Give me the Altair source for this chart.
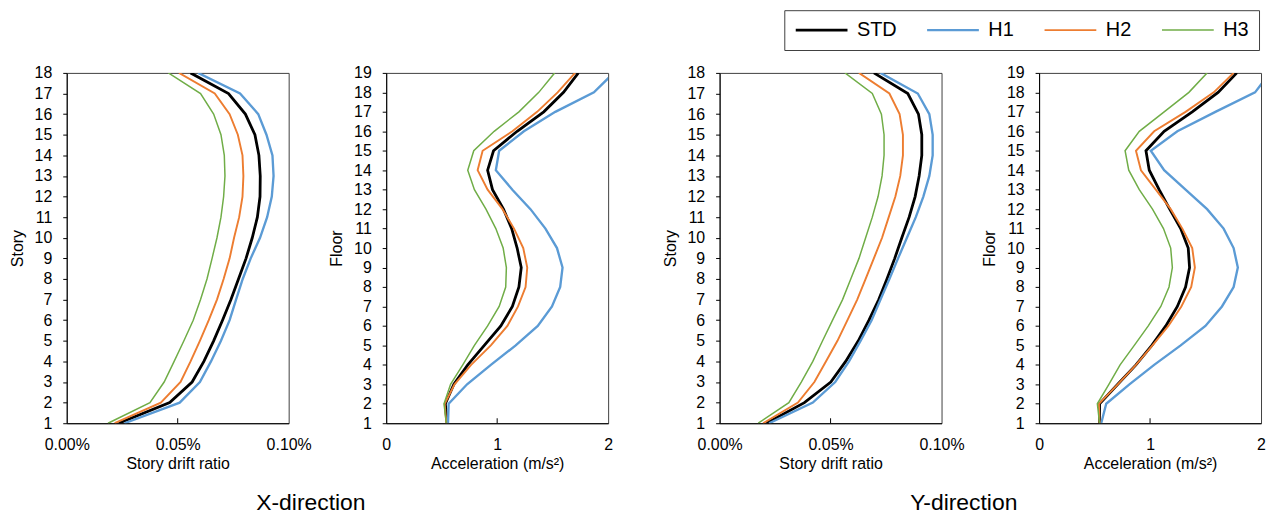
import altair as alt
import pandas as pd

series_names = ["STD", "H1", "H2", "H3"]
series_colors = ["#000000", "#5B9BD5", "#ED7D31", "#70AD47"]
series_widths = [2.8, 1.5, 1.5, 1.5]

stories = list(range(1, 19))
floors = list(range(1, 20))

# Story drift ratio (%) - X direction, story 1..18
x_drift_std = [0.0234, 0.0464, 0.0565, 0.0618, 0.0662, 0.0702, 0.0740, 0.0774, 0.0808, 0.0836, 0.0859, 0.0871, 0.0872, 0.0866, 0.0848, 0.0805, 0.0729, 0.0558]
x_drift_h1 = [0.0260, 0.0509, 0.0600, 0.0650, 0.0695, 0.0734, 0.0763, 0.0793, 0.0829, 0.0871, 0.0903, 0.0924, 0.0932, 0.0927, 0.0900, 0.0863, 0.0781, 0.0592]
x_drift_h2 = [0.0216, 0.0424, 0.0513, 0.0558, 0.0600, 0.0640, 0.0677, 0.0707, 0.0734, 0.0754, 0.0777, 0.0792, 0.0796, 0.0792, 0.0771, 0.0734, 0.0667, 0.0506]
x_drift_h3 = [0.0186, 0.0375, 0.0439, 0.0484, 0.0528, 0.0570, 0.0603, 0.0632, 0.0655, 0.0677, 0.0695, 0.0707, 0.0713, 0.0710, 0.0695, 0.0662, 0.0603, 0.0458]

# Acceleration (m/s2) - X direction, floor 1..19
x_acc_std = [0.548, 0.533, 0.610, 0.735, 0.884, 1.033, 1.137, 1.196, 1.217, 1.180, 1.131, 1.057, 0.958, 0.914, 0.967, 1.180, 1.420, 1.598, 1.732]
x_acc_h1 = [0.557, 0.563, 0.729, 0.943, 1.167, 1.366, 1.494, 1.568, 1.589, 1.539, 1.435, 1.300, 1.137, 0.988, 1.018, 1.241, 1.524, 1.872, 2.050]
x_acc_h2 = [0.542, 0.527, 0.616, 0.765, 0.943, 1.092, 1.188, 1.256, 1.271, 1.235, 1.152, 1.048, 0.914, 0.824, 0.869, 1.137, 1.360, 1.545, 1.702]
x_acc_h3 = [0.542, 0.521, 0.580, 0.690, 0.795, 0.914, 1.018, 1.077, 1.083, 1.054, 0.988, 0.899, 0.795, 0.735, 0.789, 0.973, 1.196, 1.375, 1.518]

# Story drift ratio (%) - Y direction, story 1..18
y_drift_std = [0.0211, 0.0382, 0.0501, 0.0568, 0.0625, 0.0673, 0.0717, 0.0754, 0.0789, 0.0821, 0.0854, 0.0881, 0.0899, 0.0911, 0.0911, 0.0896, 0.0848, 0.0695]
y_drift_h1 = [0.0223, 0.0420, 0.0521, 0.0583, 0.0635, 0.0685, 0.0725, 0.0765, 0.0804, 0.0844, 0.0884, 0.0918, 0.0945, 0.0960, 0.0960, 0.0945, 0.0893, 0.0725]
y_drift_h2 = [0.0196, 0.0353, 0.0427, 0.0479, 0.0531, 0.0576, 0.0620, 0.0658, 0.0695, 0.0732, 0.0762, 0.0792, 0.0814, 0.0826, 0.0826, 0.0811, 0.0765, 0.0628]
y_drift_h3 = [0.0174, 0.0312, 0.0368, 0.0420, 0.0464, 0.0509, 0.0554, 0.0591, 0.0628, 0.0658, 0.0688, 0.0714, 0.0732, 0.0741, 0.0741, 0.0729, 0.0688, 0.0565]

# Acceleration (m/s2) - Y direction, floor 1..19
y_acc_std = [0.545, 0.545, 0.709, 0.873, 1.016, 1.142, 1.246, 1.320, 1.356, 1.344, 1.276, 1.177, 1.082, 0.993, 0.963, 1.127, 1.380, 1.613, 1.782]
y_acc_h1 = [0.560, 0.605, 0.814, 1.037, 1.276, 1.499, 1.648, 1.753, 1.791, 1.753, 1.663, 1.514, 1.320, 1.127, 1.007, 1.246, 1.589, 1.946, 2.080]
y_acc_h2 = [0.545, 0.539, 0.709, 0.873, 1.022, 1.165, 1.282, 1.371, 1.404, 1.380, 1.291, 1.186, 1.052, 0.918, 0.873, 1.037, 1.320, 1.574, 1.753]
y_acc_h3 = [0.545, 0.525, 0.629, 0.730, 0.858, 0.984, 1.097, 1.171, 1.201, 1.186, 1.121, 1.022, 0.903, 0.808, 0.775, 0.903, 1.127, 1.350, 1.514]

drift_ticks = [0.0, 0.05, 0.10]
acc_ticks = [0, 1, 2]

FONT = "Liberation Sans"
W = 223
H = 352


def make_df(levels, arrays):
    rows = []
    for name, arr in zip(series_names, arrays):
        for lv, v in zip(levels, arr):
            rows.append({"series": name, "level": lv, "value": v})
    return pd.DataFrame(rows)


def panel(df, xdomain, xticks, label_expr, xtitle, ytitle, levels):
    xscale = alt.Scale(domain=xdomain, nice=False, zero=False)
    lines = alt.Chart(df).mark_line(clip=True).encode(
        x=alt.X("value:Q", scale=xscale,
                axis=alt.Axis(values=xticks, labelExpr=label_expr, title=xtitle,
                              ticks=False, labelFlush=False, labelPadding=13,
                              titlePadding=3)),
        y=alt.Y("level:Q",
                scale=alt.Scale(domain=[levels[0], levels[-1]], nice=False, zero=False),
                axis=alt.Axis(values=levels, title=ytitle, tickSize=4,
                              labelPadding=11, titlePadding=9, format="d")),
        color=alt.Color("series:N",
                        scale=alt.Scale(domain=series_names, range=series_colors),
                        legend=alt.Legend(title=None, orient="none", legendX=721, legendY=-63,
                                          direction="horizontal", columns=4)),
        strokeWidth=alt.StrokeWidth("series:N",
                                    scale=alt.Scale(domain=series_names, range=series_widths),
                                    legend=None),
        order=alt.Order("level:Q"),
    )
    inner_ticks = alt.Chart(pd.DataFrame({"value": xticks[1:-1]})).mark_rule(
        color="black", strokeWidth=1
    ).encode(
        x=alt.X("value:Q", scale=xscale),
        y=alt.value(H),
        y2=alt.value(H - 5),
    )
    return alt.layer(lines, inner_ticks).properties(width=W, height=H)


pct_expr = "format(datum.value, '.2f') + '%'"
num_expr = "format(datum.value, 'd')"

p1 = panel(make_df(stories, [x_drift_std, x_drift_h1, x_drift_h2, x_drift_h3]),
           [0, 0.1], drift_ticks, pct_expr, "Story drift ratio", "Story", stories)
p2 = panel(make_df(floors, [x_acc_std, x_acc_h1, x_acc_h2, x_acc_h3]),
           [0, 2], acc_ticks, num_expr, "Acceleration (m/s²)", "Floor", floors)
p3 = panel(make_df(stories, [y_drift_std, y_drift_h1, y_drift_h2, y_drift_h3]),
           [0, 0.1], drift_ticks, pct_expr, "Story drift ratio", "Story", stories)
p4 = panel(make_df(floors, [y_acc_std, y_acc_h1, y_acc_h2, y_acc_h3]),
           [0, 2], acc_ticks, num_expr, "Acceleration (m/s²)", "Floor", floors)

g1 = alt.hconcat(p1, p2, spacing=15,
                 title=alt.Title("X-direction", orient="bottom", anchor="middle",
                                 fontSize=23, font=FONT, fontWeight="normal",
                                 color="black", offset=21))
g2 = alt.hconcat(p3, p4, spacing=15,
                 title=alt.Title("Y-direction", orient="bottom", anchor="middle",
                                 fontSize=23, font=FONT, fontWeight="normal",
                                 color="black", offset=21))

chart = alt.hconcat(g1, g2, spacing=48).properties(
    padding={"left": 0, "top": 0, "right": 0, "bottom": 0}
).configure_axis(
    labelFont=FONT, titleFont=FONT, labelFontSize=16, titleFontSize=16,
    labelColor="black", titleColor="black", titleFontWeight="normal",
    domainColor="black", tickColor="black", grid=False,
).configure_view(
    stroke="#404040", strokeWidth=1,
).configure_legend(
    symbolType="stroke", symbolSize=2704, symbolStrokeWidth=2,
    labelFont=FONT, labelFontSize=20, labelColor="black",
    labelOffset=8, columnPadding=29, padding=10, clipHeight=20,
    strokeColor="#404040", fillColor="white",
)

chart.save("out.html", embed_options={"renderer": "svg", "actions": False})
